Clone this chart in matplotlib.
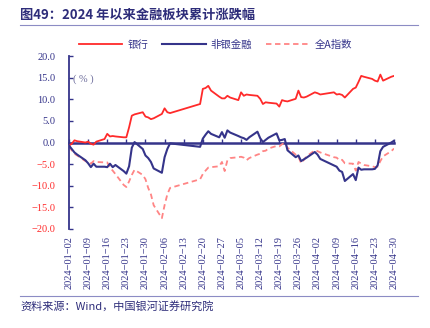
import datetime as dt

import matplotlib
matplotlib.use("Agg")
from matplotlib import pyplot as plt

# === dados ===
dias = [
    "2024-01-02", "2024-01-03", "2024-01-04", "2024-01-05", "2024-01-08", "2024-01-09", "2024-01-10",
    "2024-01-11", "2024-01-12", "2024-01-15", "2024-01-16", "2024-01-17", "2024-01-18", "2024-01-19",
    "2024-01-22", "2024-01-23", "2024-01-24", "2024-01-25", "2024-01-26", "2024-01-29", "2024-01-30",
    "2024-01-31", "2024-02-01", "2024-02-02", "2024-02-05", "2024-02-06", "2024-02-07", "2024-02-08",
    "2024-02-19", "2024-02-20", "2024-02-21", "2024-02-22", "2024-02-23", "2024-02-26", "2024-02-27",
    "2024-02-28", "2024-02-29", "2024-03-01", "2024-03-04", "2024-03-05", "2024-03-06", "2024-03-07",
    "2024-03-08", "2024-03-11", "2024-03-12", "2024-03-13", "2024-03-14", "2024-03-15", "2024-03-18",
    "2024-03-19", "2024-03-20", "2024-03-21", "2024-03-22", "2024-03-25", "2024-03-26", "2024-03-27",
    "2024-03-28", "2024-03-29", "2024-04-01", "2024-04-02", "2024-04-03", "2024-04-08", "2024-04-09",
    "2024-04-10", "2024-04-11", "2024-04-12", "2024-04-15", "2024-04-16", "2024-04-17", "2024-04-18",
    "2024-04-19", "2024-04-22", "2024-04-23", "2024-04-24", "2024-04-25", "2024-04-26", "2024-04-29",
    "2024-04-30",
]

banco = [
    -0.7, -0.3, 0.5, 0.3, 0.0, 0.2, -0.3, -0.5, 0.2, 0.8, 2.0, 1.4, 1.5, 1.4,
    1.2, 1.2, 3.5, 6.2, 6.5, 7.0, 6.0, 5.8, 5.4, 5.6, 6.6, 7.9, 7.0, 6.8,
    8.9, 12.4, 12.6, 13.1, 12.0, 10.6, 10.2, 10.2, 10.8, 10.4, 9.8, 11.6, 10.8, 11.1,
    11.0, 10.8, 10.1, 8.9, 9.3, 9.2, 9.0, 8.3, 9.8, 9.6, 9.5, 10.1, 12.0, 10.5,
    10.4, 10.6, 11.6, 11.4, 11.1, 11.6, 11.1, 11.2, 11.0, 10.4, 12.4, 12.7, 14.0, 15.4,
    15.2, 14.7, 14.3, 14.1, 15.7, 14.3, 15.2, 15.4,
]

nao_banco = [
    -0.7, -1.5, -2.3, -2.8, -4.1, -4.8, -5.7, -4.9, -5.6, -5.6, -5.7, -4.9, -5.7, -5.2,
    -6.6, -7.2, -5.5, -1.2, 0.1, -1.5, -3.0, -3.6, -4.5, -6.0, -7.0, -3.4, -1.5, -0.2,
    -1.0, 0.9, 1.8, 2.6, 2.0, 1.2, 2.4, 1.1, 2.8, 2.3, 1.5, 1.2, 1.0, 0.6,
    1.2, 2.5, 1.0, 0.1, 0.6, 1.1, 2.1, 0.5, 0.6, 0.8, -1.8, -3.4, -3.0, -4.3,
    -3.9, -3.5, -2.2, -2.8, -3.8, -5.3, -5.6, -6.5, -6.8, -8.9, -7.3, -8.7, -5.8, -6.3,
    -6.2, -6.2, -6.1, -5.3, -2.0, -1.0, 0.0, 0.4,
]

todo_a = [
    -1.0, -1.8, -2.6, -3.0, -4.3, -4.5, -4.9, -4.3, -4.5, -4.6, -4.6, -5.8, -6.5, -7.3,
    -9.8, -10.3, -9.0, -7.5, -6.3, -7.5, -8.5, -10.5, -12.0, -14.5, -17.5, -14.5, -12.0, -10.5,
    -8.5, -7.3, -6.5, -5.8, -5.7, -5.5, -4.5, -6.6, -4.1, -3.6, -3.4, -3.3, -3.5, -4.1,
    -3.6, -2.8, -2.6, -2.0, -1.9, -1.4, -0.8, -0.9, -0.4, -0.1, -1.2, -2.8, -3.3, -4.8,
    -4.0, -3.2, -1.8, -2.0, -2.3, -3.4, -3.5, -4.1, -4.0, -4.8, -4.9, -6.5, -4.5, -4.9,
    -5.2, -5.5, -5.7, -5.6, -4.3, -3.2, -2.0, -1.4,
]

rotulos_x = [
    "2024-01-02", "2024-01-09", "2024-01-16", "2024-01-23", "2024-01-30", "2024-02-06",
    "2024-02-13", "2024-02-20", "2024-02-27", "2024-03-05", "2024-03-12", "2024-03-19",
    "2024-03-26", "2024-04-02", "2024-04-09", "2024-04-16", "2024-04-23", "2024-04-30",
]
valores_y = [-20, -15, -10, -5, 0, 5, 10, 15, 20]

# === estilo ===
azul = "#35348a"
vermelho = "#ff2a2a"
rosa = "#ff8585"
plt.rcParams['font.family'] = ['Noto Sans CJK SC', 'DejaVu Sans']

datas = [dt.datetime.strptime(d, "%Y-%m-%d") for d in dias]
datas_x = [dt.datetime.strptime(d, "%Y-%m-%d") for d in rotulos_x]

# === grafico ===
fig = plt.figure(figsize=(4.3, 3.28), dpi=100)
ax = fig.add_axes([69 / 430, 1 - 229 / 328, (394 - 69) / 430, (229 - 56) / 328])

ax.plot(datas, banco, color=vermelho, lw=1.3, label="银行", zorder=3)
ax.plot(datas, nao_banco, color=azul, lw=1.5, label="非银金融", zorder=4)
ax.plot(datas, todo_a, color=rosa, lw=1.3, ls=(0, (3, 2)), label="全A指数", zorder=2)

ax.set_xlim(datas[0], datas[-1])
ax.set_ylim(-20, 20)

for lado in ["top", "right"]:
    ax.spines[lado].set_visible(False)
ax.spines["left"].set_color(azul)
ax.spines["left"].set_linewidth(1.3)
ax.spines["bottom"].set_position(("data", 0))
ax.spines["bottom"].set_color(azul)
ax.spines["bottom"].set_linewidth(1.8)
ax.spines["bottom"].set_zorder(1)

ax.set_xticks(datas_x)
ax.tick_params(axis="x", direction="in", length=3, width=1, color=azul, labelbottom=False)

ax.set_yticks(valores_y)
ax.set_yticklabels([f"{v:.1f}".replace("-", "\u2212") for v in valores_y],
                   family="Liberation Serif", fontsize=7.5)
ax.tick_params(axis="y", direction="in", length=3, width=1, color=azul, pad=10)
for rot, v in zip(ax.get_yticklabels(), valores_y):
    rot.set_color(vermelho if v < 0 else azul)

sec = ax.secondary_xaxis("bottom")
sec.set_xticks(datas_x, [r.replace("-", "\u2212") for r in rotulos_x])
sec.spines["bottom"].set_visible(False)
sec.tick_params(length=0, pad=5, labelsize=7.5, labelcolor=azul)
for rot in sec.get_xticklabels():
    rot.set_rotation(90)
    rot.set_family("Liberation Serif")

ax.text(0.012, 0.865, "( % )", transform=ax.transAxes, color="#6a6a9a",
        family="Liberation Serif", fontsize=7.5, va="center")

ax.legend(loc="lower left", bbox_to_anchor=(0.01, 1.0), ncol=3, frameon=False,
          fontsize=7.5, handlelength=4.2, handletextpad=0.5, columnspacing=1.3,
          labelcolor=azul, borderaxespad=0.2)

# titulo e fonte
fig.text(20 / 430, 1 - 15 / 328, "图49：2024 年以来金融板块累计涨跌幅", color="#2e2d7a",
         fontsize=9.5, fontweight="bold", va="center")
fig.add_artist(plt.Line2D([20 / 430, 418 / 430], [1 - 25 / 328, 1 - 25 / 328],
                          color="#8c8cc4", lw=0.8))
fig.add_artist(plt.Line2D([20 / 430, 418 / 430], [1 - 296 / 328, 1 - 296 / 328],
                          color="#8c8cc4", lw=0.8))
fig.text(20 / 430, 1 - 306 / 328, "资料来源：Wind，中国银河证券研究院", color="#2e2d7a",
         fontsize=8, style="italic", va="center")

fig.savefig("out.png", dpi=100)
